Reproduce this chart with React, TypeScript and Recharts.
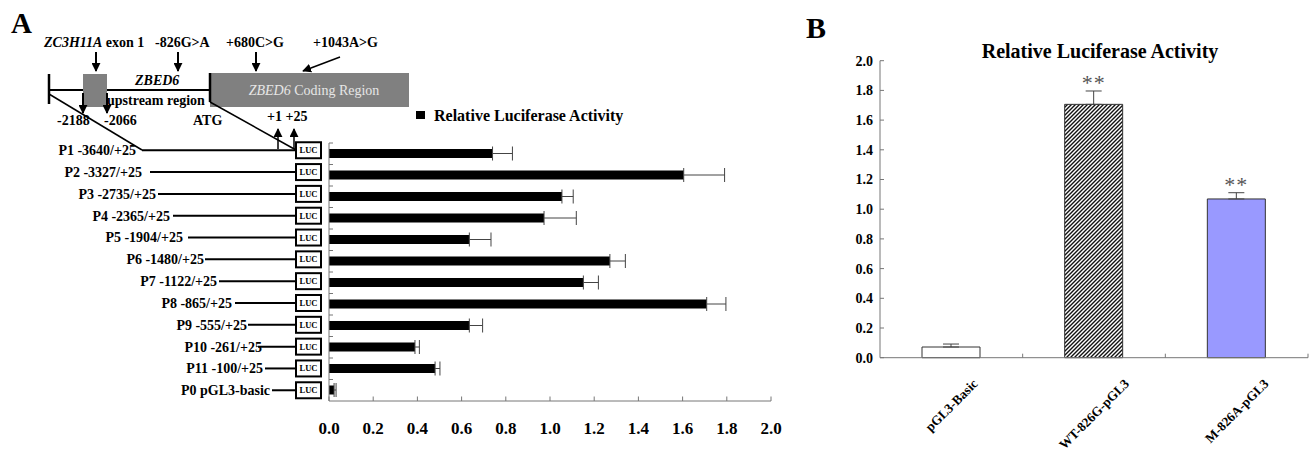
import React from 'react';
import { BarChart, Bar, XAxis, YAxis, ErrorBar, Cell } from 'recharts';

// ---------- Data: panel A ----------
const constructs = [
  'P1 -3640/+25', 'P2 -3327/+25', 'P3 -2735/+25', 'P4 -2365/+25', 'P5 -1904/+25', 'P6 -1480/+25',
  'P7 -1122/+25', 'P8 -865/+25', 'P9 -555/+25', 'P10 -261/+25', 'P11 -100/+25', 'P0 pGL3-basic',
];
const activityA = [0.74, 1.605, 1.054, 0.973, 0.635, 1.271, 1.151, 1.709, 0.635, 0.389, 0.48, 0.023];
const errorA = [0.09, 0.185, 0.051, 0.146, 0.098, 0.07, 0.068, 0.087, 0.06, 0.02, 0.022, 0.009];
const xTicksA = [0, 0.2, 0.4, 0.6, 0.8, 1.0, 1.2, 1.4, 1.6, 1.8, 2.0];

// ---------- Data: panel B ----------
const plasmids = ['pGL3-Basic', 'WT-826G-pGL3', 'M-826A-pGL3'];
const activityB = [0.072, 1.706, 1.069];
const errorB = [0.02, 0.09, 0.042];
const significance = ['', '**', '**'];
const yTicksB = [0, 0.2, 0.4, 0.6, 0.8, 1.0, 1.2, 1.4, 1.6, 1.8, 2.0];

// ---------- Layout (not data) ----------
const FONT = "'Liberation Serif', 'Times New Roman', serif";
const labelRight = [136, 142, 156, 170, 183, 204, 217, 232, 247, 262, 263, 270];
const lineLeft = [142, 150, 158, 173, 188, 205, 219, 235, 248, 258, 265, 272];

const rowsA = constructs.map((name, i) => ({ name, value: activityA[i], err: [0, errorA[i]] }));
const rowsB = plasmids.map((name, i) => ({ name, value: activityB[i], err: [0, errorB[i]], sig: significance[i] }));

const A_TOP = 143;
const A_BOTTOM = 401;
const BAND_A = (A_BOTTOM - A_TOP) / constructs.length;
const B_LEFT = 880;
const B_RIGHT = 1308;
const BAND_B = (B_RIGHT - B_LEFT) / plasmids.length;

let measureCtx: CanvasRenderingContext2D | null = null;
function measure(text: string, font: string): number {
  if (!measureCtx) measureCtx = document.createElement('canvas').getContext('2d');
  if (!measureCtx) return text.length * 7;
  measureCtx.font = font;
  return measureCtx.measureText(text).width;
}

const ConstructTick = (props: any) => {
  const { x, y, payload, index } = props;
  const i = typeof index === 'number' ? index : payload.index;
  const cy = y - 3.5 + i * 0.32;
  const boxL = 296;
  return (
    <g>
      <line x1={x} x2={x + 4} y1={y - BAND_A / 2} y2={y - BAND_A / 2} stroke="#777" strokeWidth={1} />
      <text x={labelRight[i]} y={cy} dy="0.35em" textAnchor="end" fontFamily={FONT} fontSize={14} fontWeight="bold" fill="#000">
        {payload.value}
      </text>
      <line x1={lineLeft[i]} x2={boxL} y1={cy} y2={cy} stroke="#000" strokeWidth={2} />
      <rect x={boxL} y={cy - 8} width={25} height={16} fill="#fff" stroke="#000" strokeWidth={2} />
      <text x={boxL + 12.5} y={cy} dy="0.35em" textAnchor="middle" fontFamily={FONT} fontSize={8.5} fontWeight="bold" fill="#000">
        LUC
      </text>
    </g>
  );
};

const ValueTickA = (props: any) => {
  const { x, y, payload } = props;
  return (
    <g>
      <line x1={x} x2={x} y1={y} y2={y - 4.5} stroke="#777" strokeWidth={1} />
      <text x={x} y={y + 33} textAnchor="middle" fontFamily={FONT} fontSize={17} fontWeight="bold" fill="#000">
        {Number(payload.value).toFixed(1)}
      </text>
    </g>
  );
};

const ValueTickB = (props: any) => {
  const { x, y, payload } = props;
  return (
    <g>
      <line x1={x} x2={x + 4} y1={y} y2={y} stroke="#777" strokeWidth={1} />
      <text x={x - 7} y={y} dy="0.35em" textAnchor="end" fontFamily={FONT} fontSize={14} fontWeight="bold" fill="#000">
        {Number(payload.value).toFixed(1)}
      </text>
    </g>
  );
};

const PlasmidTick = (props: any) => {
  const { x, y, payload } = props;
  const label = String(payload.value);
  const fs = 13.2;
  const w = measure(label, `bold ${fs}px 'Liberation Serif'`);
  const cy = y + 19 + (w + fs) / (2 * Math.SQRT2);
  return (
    <g>
      <line x1={x + BAND_B / 2} x2={x + BAND_B / 2} y1={y} y2={y - 4} stroke="#777" strokeWidth={1} />
      <text
        x={x}
        y={cy}
        dy="0.35em"
        textAnchor="middle"
        transform={`rotate(-45 ${x} ${cy})`}
        fontFamily={FONT}
        fontSize={fs}
        fontWeight="bold"
        fill="#000"
      >
        {label}
      </text>
    </g>
  );
};

const SigLabel = (props: any) => {
  const { x, y, width, height, index } = props;
  const i = typeof index === 'number' ? index : 0;
  const s = significance[i];
  if (!s) return null;
  const pxPerUnit = Number(height) / activityB[i];
  const top = Number(y) - errorB[i] * pxPerUnit;
  return (
    <text x={Number(x) + Number(width) / 2} y={top - 1} textAnchor="middle" fontFamily={FONT} fontSize={22} fill="#555" letterSpacing={1}>
      {s}
    </text>
  );
};

const Diagram = () => (
  <svg width={1310} height={451} style={{ position: 'absolute', left: 0, top: 0 }}>
    <defs>
      <marker id="ah" viewBox="0 0 10 10" refX="9" refY="5" markerWidth="9" markerHeight="9" markerUnits="userSpaceOnUse" orient="auto">
        <path d="M0,0 L10,5 L0,10 z" fill="#000" />
      </marker>
      <pattern id="hatch" patternUnits="userSpaceOnUse" width="4" height="4">
        <rect width="4" height="4" fill="#fff" />
        <path d="M-1,1 L1,-1 M0,4 L4,0 M3,5 L5,3" stroke="#111" strokeWidth="1.4" />
      </pattern>
    </defs>
    <g fontFamily={FONT} fill="#000">
      <text x={11} y={33} fontSize={29} fontWeight="bold">A</text>
      <text x={806} y={38} fontSize={30} fontWeight="bold">B</text>

      {/* top labels */}
      <text x={44} y={47} fontSize={14} fontWeight="bold">
        <tspan fontStyle="italic">ZC3H11A</tspan> exon 1
      </text>
      <text x={155} y={47} fontSize={14} fontWeight="bold">-826G&gt;A</text>
      <text x={226} y={47} fontSize={14} fontWeight="bold">+680C&gt;G</text>
      <text x={313} y={47} fontSize={14} fontWeight="bold">+1043A&gt;G</text>

      {/* arrows down */}
      <line x1={96} y1={52} x2={96} y2={71} stroke="#000" strokeWidth={2} markerEnd="url(#ah)" />
      <line x1={178} y1={52} x2={178} y2={71} stroke="#000" strokeWidth={2} markerEnd="url(#ah)" />
      <line x1={256} y1={52} x2={256} y2={71} stroke="#000" strokeWidth={2} markerEnd="url(#ah)" />
      <line x1={340} y1={57} x2={303} y2={71} stroke="#000" strokeWidth={1.5} markerEnd="url(#ah)" />

      {/* gene structure */}
      <line x1={49} y1={90} x2={210} y2={90} stroke="#000" strokeWidth={2.2} />
      <line x1={49} y1={74} x2={49} y2={104} stroke="#000" strokeWidth={2.5} />
      <rect x={83} y={74} width={24} height={33} fill="#808080" />
      <rect x={210} y={73} width={199} height={34} fill="#808080" />
      <line x1={210} y1={73} x2={210} y2={102} stroke="#000" strokeWidth={2.5} />
      <text x={314} y={95} fontSize={14} textAnchor="middle" fill="#e6e6e6">
        <tspan fontStyle="italic">ZBED6</tspan> Coding Region
      </text>
      <text x={135} y={85} fontSize={14} fontWeight="bold" fontStyle="italic">ZBED6</text>
      <text x={107} y={105} fontSize={14} fontWeight="bold">upstream region</text>

      <line x1={83} y1={93} x2={83} y2={113} stroke="#000" strokeWidth={2} markerEnd="url(#ah)" />
      <line x1={107} y1={93} x2={107} y2={113} stroke="#000" strokeWidth={2} markerEnd="url(#ah)" />
      <text x={57} y={125} fontSize={14} fontWeight="bold">-2188</text>
      <text x={104} y={125} fontSize={14} fontWeight="bold">-2066</text>
      <text x={193} y={125} fontSize={14} fontWeight="bold">ATG</text>
      <text x={267} y={121} fontSize={14} fontWeight="bold">+1 +25</text>

      <line x1={278} y1={149} x2={278} y2={129} stroke="#000" strokeWidth={1.5} markerEnd="url(#ah)" />
      <line x1={294} y1={149} x2={294} y2={129} stroke="#000" strokeWidth={1.5} markerEnd="url(#ah)" />

      <line x1={49} y1={94} x2={142} y2={150} stroke="#000" strokeWidth={1.5} />
      <line x1={210} y1={102} x2={296} y2={150} stroke="#000" strokeWidth={1.5} />

      {/* legend A */}
      <rect x={416} y={111} width={9} height={8} fill="#000" />
      <text x={434} y={121} fontSize={16} fontWeight="bold">Relative Luciferase Activity</text>

      {/* title B */}
      <text x={1100} y={58} fontSize={20} fontWeight="bold" textAnchor="middle">Relative Luciferase Activity</text>
    </g>
  </svg>
);

export default function App() {
  return (
    <div style={{ position: 'absolute', left: 0, top: 0, width: 1310, height: 451, background: '#fff', overflow: 'hidden' }}>
      <Diagram />
      <div style={{ position: 'absolute', left: 0, top: 0 }}>
        <BarChart
          width={800}
          height={451}
          data={rowsA}
          layout="vertical"
          margin={{ top: A_TOP, left: 269, right: 29, bottom: 451 - A_BOTTOM - 30 }}
          barCategoryGap={0}
        >
          <XAxis
            type="number"
            domain={[0, 2]}
            ticks={xTicksA}
            height={30}
            tickSize={0}
            tickMargin={0}
            tickLine={false}
            axisLine={{ stroke: '#777', strokeWidth: 1 }}
            tick={<ValueTickA />}
            interval={0}
          />
          <YAxis
            type="category"
            dataKey="name"
            width={60}
            tickSize={0}
            tickMargin={0}
            tickLine={false}
            axisLine={{ stroke: '#777', strokeWidth: 1 }}
            tick={<ConstructTick />}
            interval={0}
          />
          <Bar dataKey="value" fill="#000" barSize={9} isAnimationActive={false}>
            <ErrorBar dataKey="err" direction="x" width={7} stroke="#444" strokeWidth={1} />
          </Bar>
        </BarChart>
      </div>
      <div style={{ position: 'absolute', left: 800, top: 0 }}>
        <BarChart
          width={510}
          height={451}
          data={rowsB}
          margin={{ top: 60.7, left: 40, right: 2, bottom: 451 - 357.7 - 80 }}
        >
          <XAxis
            type="category"
            dataKey="name"
            height={80}
            tickSize={0}
            tickMargin={0}
            tickLine={false}
            axisLine={{ stroke: '#777', strokeWidth: 1 }}
            tick={<PlasmidTick />}
            interval={0}
          />
          <YAxis
            type="number"
            domain={[0, 2]}
            ticks={yTicksB}
            width={40}
            tickSize={0}
            tickMargin={0}
            tickLine={false}
            axisLine={{ stroke: '#777', strokeWidth: 1 }}
            tick={<ValueTickB />}
            interval={0}
          />
          <Bar dataKey="value" barSize={58} stroke="#333" strokeWidth={1} isAnimationActive={false} label={<SigLabel />}>
            {rowsB.map((r, i) => (
              <Cell key={r.name} fill={i === 0 ? '#ffffff' : i === 1 ? 'url(#hatch)' : '#9999ff'} />
            ))}
            <ErrorBar dataKey="err" direction="y" width={8} stroke="#444" strokeWidth={1} />
          </Bar>
        </BarChart>
      </div>
    </div>
  );
}
